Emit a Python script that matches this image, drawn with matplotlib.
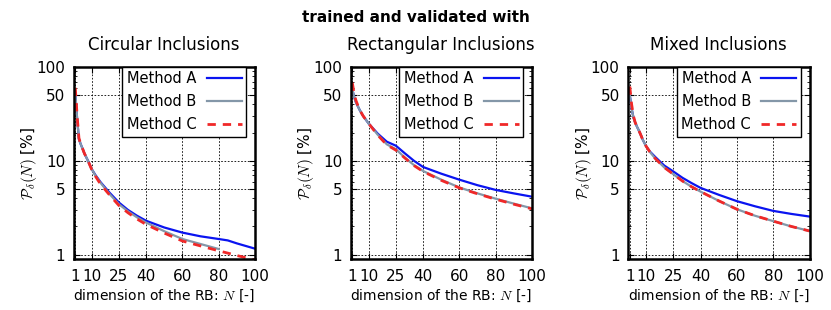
import numpy as np
import matplotlib
matplotlib.use("Agg")
import matplotlib.pyplot as plt
from matplotlib.ticker import LogLocator, NullFormatter

# ---- data ----
titles = ["Circular Inclusions", "Rectangular Inclusions", "Mixed Inclusions"]
labels = ["Method A", "Method B", "Method C"]
x_ticks = [1, 10, 25, 40, 60, 80, 100]
y_ticks = [1, 5, 10, 50, 100]

n_circ = [1, 2, 3, 4, 5, 6, 8, 10, 12, 15, 20, 25, 30, 35, 40, 50, 60, 70, 80, 85, 90, 100]
circ_a = [52, 28, 17, 15, 13.5, 12, 10, 8.2, 7.1, 5.9, 4.55, 3.6, 3.0, 2.6, 2.3, 1.95, 1.72, 1.57, 1.47, 1.42, 1.32, 1.16]
n_circ_b = [1, 2, 3, 4, 5, 6, 8, 10, 12, 15, 20, 25, 30, 35, 40, 50, 60, 70, 80]
circ_b = [52, 28, 17, 15, 13.5, 12, 10, 8.2, 7.0, 5.8, 4.4, 3.45, 2.9, 2.5, 2.2, 1.78, 1.47, 1.3, 1.15]
circ_c = [60, 30, 17.5, 15, 13.5, 12, 10, 8.1, 6.9, 5.6, 4.3, 3.35, 2.8, 2.4, 2.1, 1.7, 1.4, 1.24, 1.1, 1.04, 0.98, 0.88]

n_std = [1, 2, 3, 5, 7, 10, 15, 20, 25, 30, 35, 40, 50, 60, 70, 80, 90, 100]
rect_a = [58, 48, 42, 35, 30, 25, 19.5, 16, 14.5, 12, 10, 8.6, 7.3, 6.3, 5.5, 4.9, 4.5, 4.15]
rect_b = [58, 48, 42, 35, 30, 25, 19, 15, 13.3, 10.8, 9.0, 7.8, 6.3, 5.2, 4.5, 3.95, 3.5, 3.12]
rect_c = [68, 52, 44, 35, 30, 25, 18.8, 14.8, 13.0, 10.7, 8.9, 7.7, 6.2, 5.15, 4.45, 3.9, 3.45, 3.08]

n_mix = [1, 2, 3, 4, 5, 6, 7, 8, 10, 12, 15, 20, 25, 30, 35, 40, 50, 60, 70, 80, 90, 100]
mix_a = [50, 36, 29, 25.5, 23, 21, 19, 17, 14.3, 12.6, 11, 8.9, 7.7, 6.6, 5.8, 5.15, 4.35, 3.72, 3.28, 2.93, 2.72, 2.55]
mix_b = [50, 36, 29, 25.5, 23, 21, 19, 17, 14.3, 12.5, 10.6, 8.5, 7.2, 6.1, 5.3, 4.7, 3.75, 3.05, 2.6, 2.28, 2.0, 1.79]
mix_c = [62, 40, 30, 25.5, 23, 21, 19, 17, 14.3, 12.5, 10.6, 8.5, 7.2, 6.1, 5.3, 4.7, 3.75, 3.05, 2.6, 2.28, 2.0, 1.79]

panels = [
    ((n_circ, circ_a), (n_circ_b, circ_b), (n_circ, circ_c)),
    ((n_std, rect_a), (n_std, rect_b), (n_std, rect_c)),
    ((n_mix, mix_a), (n_mix, mix_b), (n_mix, mix_c)),
]

colors = ["#0a14f0", "#8497a8", "#f02828"]
styles = ["-", "-", "--"]

plt.rcParams["font.family"] = "DejaVu Sans"
plt.rcParams["mathtext.fontset"] = "cm"

fig = plt.figure(figsize=(8.31, 3.10), dpi=100)
lefts = [73.5, 350.5, 628.0]
w_px, top_px, bot_px = 181.5, 67, 259

for k, (left, title, series) in enumerate(zip(lefts, titles, panels)):
    ax = fig.add_axes([left / 831, 1 - bot_px / 310, w_px / 831, (bot_px - top_px) / 310])
    for (xs, ys), lab, c, ls in zip(series, labels, colors, styles):
        ax.plot(xs, ys, color=c, linestyle=ls, linewidth=1.6 if ls == "-" else 2.0,
                dashes=(3, 2.5) if ls == "--" else (None, None), label=lab)
    ax.set_yscale("log")
    ax.set_xlim(0, 100)
    ax.set_ylim(0.9, 100)
    ax.set_xticks(x_ticks)
    ax.set_xticklabels([str(t) for t in x_ticks])
    ax.set_yticks(y_ticks)
    ax.set_yticklabels([str(t) for t in y_ticks])
    ax.yaxis.set_minor_locator(LogLocator(base=10, subs=np.arange(2, 10)))
    ax.yaxis.set_minor_formatter(NullFormatter())
    ax.tick_params(axis="both", which="major", direction="in", top=True, right=True,
                   length=4, width=0.8, labelsize=11)
    ax.tick_params(axis="x", which="major", pad=7)
    ax.tick_params(axis="y", which="major", pad=6)
    ax.tick_params(axis="y", which="minor", direction="in", right=True, length=2, width=0.6)
    ax.grid(True, which="major", linestyle=(0, (2, 2)), color="black", linewidth=0.6)
    for sp in ax.spines.values():
        sp.set_linewidth(1.8)
        sp.set_color("black")
    ax.set_title(title, fontsize=12, pad=12)
    ax.set_xlabel("dimension of the RB: $N$ [-]", fontsize=10, labelpad=3)
    ax.set_ylabel(r"$\mathcal{P}_\delta(N)$ [%]", fontsize=11, labelpad=-2)
    leg = ax.legend(loc="upper right", bbox_to_anchor=(1 - 9 / w_px, 1), markerfirst=False,
                    fontsize=10.5, frameon=True, fancybox=False, edgecolor="black",
                    borderaxespad=0.0, handlelength=2.4, labelspacing=0.55,
                    borderpad=0.3, handletextpad=0.7)
    leg.get_frame().set_linewidth(1.0)
    leg.get_frame().set_alpha(1.0)

fig.text(0.5, 1 - 17 / 310, "trained and validated with", ha="center", va="center",
         fontsize=11, fontweight="bold")

fig.savefig("out.png", dpi=100)
